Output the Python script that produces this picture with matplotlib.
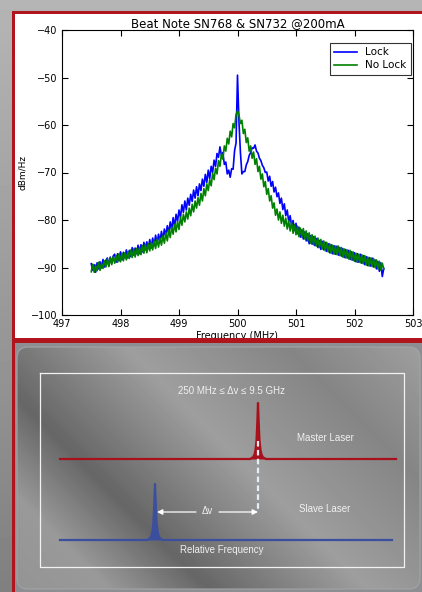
import numpy as np
import matplotlib.pyplot as plt
from matplotlib.patches import Rectangle, FancyBboxPatch

# Canvas size (pixels)
W, H = 422, 592

# ---------------------
# Beat note spectrum data, 497.5 - 502.5 MHz, 0.025 MHz steps
freq = np.round(np.arange(497.5, 502.5001, 0.025), 3)

lock = [
    -89.2, -90.6, -89.4, -91.0, -89.0, -90.3, -88.8, -90.1,
    -88.3, -89.9, -88.5, -88.0, -89.7, -87.8, -89.1, -87.6,
    -87.2, -88.9, -87.1, -88.6, -86.7, -88.4, -86.8, -88.0,
    -86.3, -88.0, -86.4, -87.7, -85.8, -87.4, -85.9, -87.1,
    -85.3, -87.1, -85.2, -86.7, -84.7, -86.3, -84.6, -86.0,
    -84.1, -85.9, -83.8, -85.4, -83.2, -85.0, -83.0, -84.6,
    -82.4, -84.2, -81.9, -83.4, -81.2, -82.8, -80.4, -82.1,
    -79.5, -81.4, -78.8, -80.3, -77.9, -79.5, -76.8, -78.4,
    -76.0, -77.9, -75.4, -76.9, -74.6, -76.1, -73.7, -75.4,
    -73.0, -74.9, -72.4, -73.8, -71.4, -72.9, -70.4, -72.1,
    -69.5, -71.3, -68.7, -70.0, -67.4, -68.7, -66.0, -66.8,
    -64.6, -66.4, -65.8, -68.3, -67.8, -70.3, -69.5, -71.0,
    -69.2, -69.3, -65.4, -63.8, -49.5, -59.3, -65.8, -70.3,
    -69.8, -69.8, -68.4, -67.7, -66.4, -65.8, -64.8, -64.9,
    -64.2, -65.5, -65.9, -67.0, -67.5, -68.5, -69.0, -70.0,
    -69.9, -71.8, -70.8, -72.9, -71.9, -74.1, -73.1, -75.1,
    -74.3, -76.5, -75.4, -77.8, -76.6, -79.1, -77.9, -80.3,
    -79.1, -81.3, -80.1, -82.2, -80.7, -82.9, -81.5, -83.6,
    -82.1, -84.0, -82.5, -84.4, -82.9, -85.0, -83.3, -85.1,
    -83.5, -85.4, -83.9, -85.8, -84.3, -86.2, -84.5, -86.3,
    -84.7, -86.6, -85.0, -86.9, -85.2, -87.1, -85.4, -87.2,
    -85.5, -87.4, -85.8, -87.6, -86.0, -87.9, -86.2, -88.0,
    -86.4, -88.3, -86.7, -88.5, -86.9, -88.8, -87.1, -88.9,
    -87.2, -89.1, -87.5, -89.4, -87.7, -89.6, -87.9, -89.7,
    -88.0, -89.9, -88.4, -90.3, -88.7, -90.8, -89.0, -91.9,
    -90.2,
]

nolock = [
    -90.9, -89.3, -91.0, -89.5, -90.7, -88.9, -90.6, -89.1,
    -90.2, -88.6, -89.9, -88.2, -89.8, -88.0, -89.4, -87.7,
    -89.1, -87.5, -88.9, -87.1, -88.8, -87.0, -88.6, -86.9,
    -88.4, -86.7, -88.1, -86.3, -87.9, -86.1, -87.8, -86.0,
    -87.5, -85.8, -87.3, -85.4, -87.0, -85.1, -86.9, -85.0,
    -86.5, -84.7, -86.3, -84.4, -86.0, -84.0, -85.7, -83.8,
    -85.3, -83.3, -84.9, -82.7, -84.4, -82.1, -83.7, -81.5,
    -83.0, -80.9, -82.5, -80.3, -82.0, -79.4, -81.1, -78.8,
    -80.4, -78.3, -79.8, -77.5, -79.1, -76.7, -78.3, -76.0,
    -77.5, -75.3, -76.9, -74.4, -76.0, -73.4, -74.9, -72.4,
    -73.8, -71.5, -72.8, -70.2, -71.5, -69.1, -70.3, -67.5,
    -68.7, -66.1, -67.2, -64.4, -65.5, -62.8, -64.0, -61.3,
    -62.5, -59.7, -60.6, -57.8, -57.0, -57.9, -59.7, -59.0,
    -61.8, -60.9, -63.7, -62.7, -65.5, -64.4, -67.0, -65.7,
    -68.3, -67.1, -69.8, -68.7, -71.4, -70.3, -73.0, -71.9,
    -74.6, -73.4, -76.0, -74.9, -77.5, -76.4, -79.0, -77.7,
    -80.0, -78.3, -80.7, -79.0, -81.3, -79.6, -81.9, -80.2,
    -82.3, -80.5, -82.8, -81.0, -83.1, -81.3, -83.5, -81.7,
    -83.6, -81.8, -84.0, -82.3, -84.4, -82.7, -84.9, -83.1,
    -85.2, -83.4, -85.5, -83.8, -85.8, -84.1, -86.1, -84.4,
    -86.5, -84.7, -86.7, -85.0, -87.0, -85.3, -87.2, -85.5,
    -87.3, -85.5, -87.5, -85.8, -87.8, -86.1, -88.0, -86.3,
    -88.2, -86.4, -88.4, -86.7, -88.7, -87.0, -88.9, -87.2,
    -89.0, -87.3, -89.2, -87.5, -89.5, -87.8, -89.7, -88.0,
    -89.8, -88.1, -90.0, -88.4, -90.3, -88.7, -90.6, -89.1,
    -90.3,
]

series_labels = ['Lock', 'No Lock']
xticks = [497, 498, 499, 500, 501, 502, 503]
yticks = [-100, -90, -80, -70, -60, -50, -40]

# ---------------------
# Schematic (pixel coordinates of the lower panel)
box = (40, 373, 404, 567)           # left, top, right, bottom
master_level, slave_level = 459, 540
master_span = (60, 396)
slave_span = (60, 392)
master_peak, slave_peak = 258, 155
peak_height = 56
peak_dx = [-8, -5, -3.5, -2.5, -1.5, -0.7, 0, 0.7, 1.5, 2.5, 3.5, 5, 8]
peak_shape = [0, 0.03, 0.08, 0.16, 0.33, 0.65, 1.0, 0.65, 0.33, 0.16, 0.08, 0.03, 0]
arrow_y = 512

red = '#b0141c'
txt_font = ['Liberation Sans', 'DejaVu Sans']

fig = plt.figure(figsize=(W / 100, H / 100), dpi=100)

# ---------------------
# Background layer: gray gradient, red frame, white panel
bg = fig.add_axes([0, 0, 1, 1], zorder=0)
bg.axis('off')
shade = np.linspace(0.71, 0.50, H)[:, None] * np.ones((1, W))
bg.imshow(shade, cmap='gray', vmin=0, vmax=1, extent=(0, W, H, 0), aspect='auto')
bg.add_patch(Rectangle((11.5, 11), W, 331, facecolor=red, edgecolor='none'))
bg.add_patch(Rectangle((15, 14), W, 324, facecolor='white', edgecolor='none'))
bg.set_xlim(0, W)
bg.set_ylim(H, 0)

# ---------------------
# Spectrum plot
ax = fig.add_axes([62 / W, 1 - 315 / H, 351 / W, 285 / H], zorder=1)
ax.plot(freq, lock, color='b', lw=1.2, label=series_labels[0])
ax.plot(freq, nolock, color='g', lw=1.2, label=series_labels[1])
ax.set_xlim(497, 503)
ax.set_ylim(-100, -40)
ax.set_xticks(xticks)
ax.set_yticks(yticks)
ax.tick_params(direction='in', top=True, right=True, labelsize=7, length=4, pad=3)
ax.set_title('Beat Note SN768 & SN732 @200mA', fontsize=8.5, pad=2)
ax.set_xlabel('Frequency (MHz)', fontsize=7, labelpad=1)
ax.set_ylabel('dBm/Hz', fontsize=6.5, labelpad=3)
leg = ax.legend(loc='upper right', bbox_to_anchor=(0.994, 0.954), borderaxespad=0,
                fontsize=7.5, fancybox=False, handlelength=2.2, borderpad=0.4,
                labelspacing=0.3)
leg.get_frame().set_edgecolor('black')
leg.get_frame().set_linewidth(0.8)

# ---------------------
# Lower panel: schematic of the offset lock
dg = fig.add_axes([0, 0, 1, 1], zorder=2, facecolor='none')
dg.axis('off')
dg.add_patch(Rectangle((11.5, 338), W, 4.5, facecolor=red, edgecolor='none'))
dg.add_patch(Rectangle((11.5, 342), 3.5, H, facecolor=red, edgecolor='none'))
dg.add_patch(Rectangle((15, 342.5), W, H, facecolor='#8d8e91', edgecolor='none'))

panel = FancyBboxPatch((17, 347), 403, 242, boxstyle='round,pad=0,rounding_size=11',
                       facecolor='none', edgecolor='#a3a4a7', lw=0.8, zorder=3)
dg.add_patch(panel)
gx, gy = np.meshgrid(np.arange(17, 421), np.arange(347, 590))
stops_t = [-572, -480, -380, -220, -60, 73]
stops_v = [0.58, 0.60, 0.40, 0.62, 0.52, 0.62]
metal = np.interp(gx - gy, stops_t, stops_v)
im = dg.imshow(metal, cmap='gray', vmin=0, vmax=1, extent=(17, 421, 590, 347),
               aspect='auto', zorder=2)
im.set_clip_path(panel)

bl, bt, br, bb = box
dg.plot([bl, br, br, bl, bl], [bt, bt, bb, bb, bt], color='#f2f2f2', lw=0.9, zorder=4)

dx = np.array(peak_dx)
prof = np.array(peak_shape)

# master laser
mx = master_peak + dx
my = master_level - peak_height * prof
dg.fill_between(mx, my, master_level, color='#a8101c', zorder=5, lw=0)
dg.plot(np.concatenate([[master_span[0]], mx, [master_span[1]]]),
        np.concatenate([[master_level], my, [master_level]]),
        color='#a8101c', lw=1.6, zorder=5)

# slave laser
sx = slave_peak + dx
sy = slave_level - peak_height * prof
dg.fill_between(sx, sy, slave_level, color='#3b4f9e', zorder=5, lw=0)
dg.plot(np.concatenate([[slave_span[0]], sx, [slave_span[1]]]),
        np.concatenate([[slave_level], sy, [slave_level]]),
        color='#3b4f9e', lw=1.6, zorder=5)

# dashed marker from master peak down to the arrow
dg.plot([master_peak, master_peak], [master_level - 18, arrow_y], color='#e6eef6',
        lw=1.6, ls=(0, (2.5, 1.5)), zorder=6)

# delta-nu arrow
dg.annotate('', xy=(slave_peak + 2, arrow_y), xytext=(196, arrow_y),
            arrowprops=dict(arrowstyle='-|>', color='white', lw=0.9,
                            mutation_scale=8, shrinkA=0, shrinkB=0), zorder=6)
dg.annotate('', xy=(master_peak, arrow_y), xytext=(219, arrow_y),
            arrowprops=dict(arrowstyle='-|>', color='white', lw=0.9,
                            mutation_scale=8, shrinkA=0, shrinkB=0), zorder=6)

tk = dict(color='#f0f0f0', fontsize=7, family=txt_font, ha='center', va='center', zorder=7)
dg.text(231, 391, '250 MHz \u2264 \u0394v \u2264 9.5 GHz', **tk)
dg.text(325, 438, 'Master Laser', **tk)
dg.text(325, 509, 'Slave Laser', **tk)
dg.text(222, 550, 'Relative Frequency', **tk)
dg.text(207, 511, '\u0394v', **tk)

dg.set_xlim(0, W)
dg.set_ylim(H, 0)

fig.savefig('out.png', dpi=100)
